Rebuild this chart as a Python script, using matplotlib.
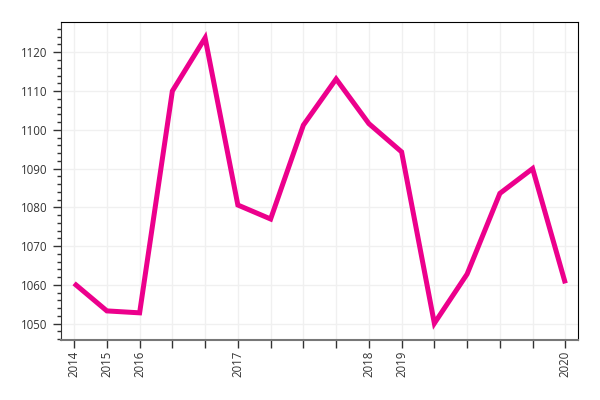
import matplotlib
matplotlib.use("Agg")
import matplotlib.pyplot as plt
from matplotlib.ticker import MultipleLocator

plt.rcParams['font.family'] = ['Open Sans', 'DejaVu Sans']

# one value per period, labels only where the source shows a year
values = [1060.4, 1053.3, 1052.8, 1110.0, 1123.7, 1080.6, 1077.0, 1101.2,
          1113.1, 1101.6, 1094.3, 1050.1, 1062.8, 1083.6, 1090.0, 1060.4]
tick_labels = ['2014', '2015', '2016', '', '', '2017', '', '', '', '2018',
               '2019', '', '', '', '', '2020']
positions = list(range(len(values)))

fig = plt.figure(figsize=(6, 4), dpi=100)
ax = fig.add_axes([0.1017, 0.151, 0.8613, 0.794])

ax.plot(positions, values, color='#EC008C', linewidth=3.6,
        solid_joinstyle='miter', solid_capstyle='butt', zorder=3)

ax.set_xlim(-0.4, 15.38)
ax.set_ylim(1045.9, 1127.8)

ax.set_xticks(positions)
ax.set_xticklabels(tick_labels, rotation=90, fontsize=8.3, color='#333333')
ax.yaxis.set_major_locator(MultipleLocator(10))
ax.yaxis.set_minor_locator(MultipleLocator(2))
ax.tick_params(axis='y', which='major', labelsize=8.3, labelcolor='#333333',
               length=6, width=1, color='#333333')
ax.tick_params(axis='y', which='minor', length=3, width=1, color='#333333')
ax.tick_params(axis='x', which='major', length=6, width=1, color='#333333',
               pad=2)

ax.grid(True, which='major', color='#f0f0f0', linewidth=1, zorder=0)
ax.set_axisbelow(True)

ax.spines['left'].set_color('#333333')
ax.spines['bottom'].set_color('#777777')
ax.spines['bottom'].set_linewidth(1.5)
ax.spines['top'].set_color('black')
ax.spines['right'].set_color('black')

fig.savefig('out.png', dpi=100)
